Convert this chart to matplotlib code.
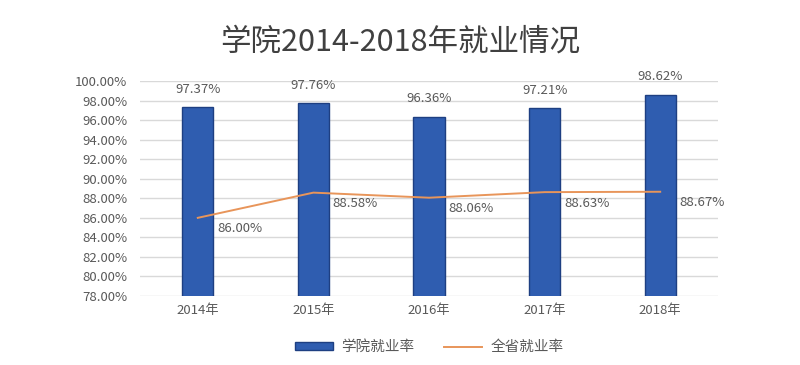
import numpy as np
import matplotlib.pyplot as plt
from matplotlib.ticker import FuncFormatter

plt.rcParams['font.family'] = ['Noto Sans CJK SC', 'DejaVu Sans']

# data
years = ['2014年', '2015年', '2016年', '2017年', '2018年']
college_rate = [97.37, 97.76, 96.36, 97.21, 98.62]
province_rate = [86.00, 88.58, 88.06, 88.63, 88.67]

fig = plt.figure(figsize=(8, 3.65), dpi=100)
ax = fig.add_axes([0.175, 0.189, 0.7225, 0.589])

x = np.arange(len(years))
bars = ax.bar(x, college_rate, width=0.27, color='#2F5DB0',
              edgecolor='#1E3F82', linewidth=1.0, label='学院就业率', zorder=3)
line, = ax.plot(x, province_rate, color='#E8955A', linewidth=1.4,
                label='全省就业率', zorder=4)

for xi, v in zip(x, college_rate):
    ax.annotate('%.2f%%' % v, (xi, v), xytext=(0, 8), textcoords='offset points',
                ha='center', va='bottom', fontsize=9.5, color='#595959')
for xi, v in zip(x, province_rate):
    ax.annotate('%.2f%%' % v, (xi, v), xytext=(14, -8), textcoords='offset points',
                ha='left', va='center', fontsize=9.5, color='#595959')

ax.set_ylim(78, 100)
ax.set_xlim(-0.5, len(years) - 0.5)
ax.set_yticks(np.arange(78, 100.1, 2))
ax.yaxis.set_major_formatter(FuncFormatter(lambda v, p: '%.2f%%' % v))
ax.set_xticks(x)
ax.set_xticklabels(years)
ax.tick_params(axis='both', length=0, labelsize=9.5, colors='#595959')
ax.tick_params(axis='y', pad=9)
ax.tick_params(axis='x', pad=6)
ax.grid(axis='y', color='#D9D9D9', linewidth=1.0, zorder=0)
for s in ax.spines.values():
    s.set_visible(False)

fig.text(0.5, 0.885, '学院2014-2018年就业情况', ha='center', va='center',
         fontsize=22, color='#404040')

ax.legend([bars, line], ['学院就业率', '全省就业率'], loc='center',
          bbox_to_anchor=(0.5, -0.238), ncol=2, frameon=False,
          fontsize=10.5, labelcolor='#595959', handlelength=2.6, handleheight=0.4,
          handletextpad=0.6, columnspacing=2.0, bbox_transform=ax.transAxes)

fig.savefig('out.png', dpi=100, facecolor='white')
